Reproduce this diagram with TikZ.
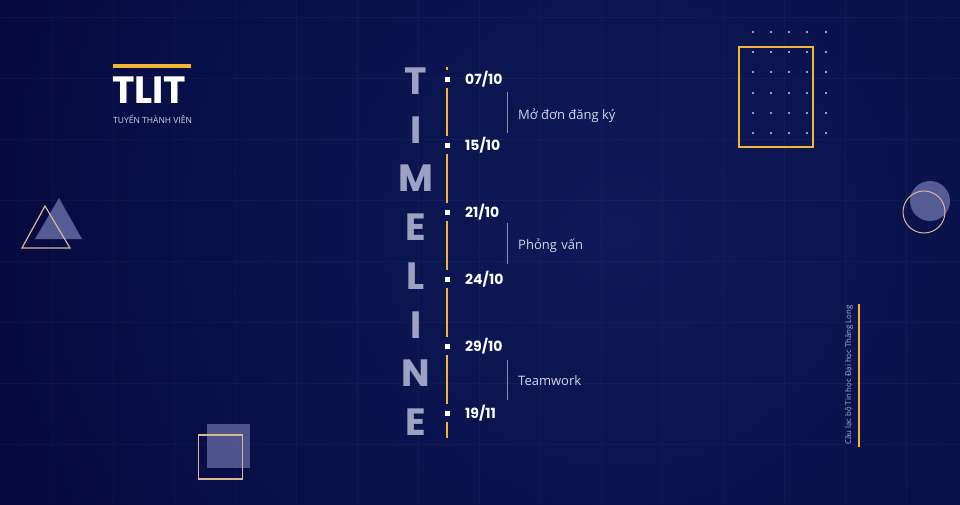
\documentclass[tikz,border=0pt]{standalone}
\usepackage{fontspec}
\setmainfont{Open Sans}
\newfontfamily\popfont{Poppins}
\usetikzlibrary{positioning}

\definecolor{bgdark}{HTML}{030337}
\definecolor{bglight}{HTML}{0E1B58}
\definecolor{tlyellow}{HTML}{F2B53A}
\definecolor{lettergray}{HTML}{9EA2C2}
\definecolor{lavender}{HTML}{565B95}
\definecolor{shapeline}{HTML}{D8B791}
\definecolor{labeltext}{HTML}{D3D6EA}
\definecolor{spangray}{HTML}{8A8FAE}
\definecolor{clubgray}{HTML}{ADB1D2}
\definecolor{dotcolor}{HTML}{C4CBF0}

\begin{document}
\begin{tikzpicture}[
    x=1pt, y=-1pt,
    letter/.style={
        font=\popfont\bfseries\fontsize{38}{38}\selectfont,
        text=lettergray, anchor=base, inner sep=0pt
    },
    date/.style={
        font=\popfont\bfseries\fontsize{14}{14}\selectfont,
        text=white, anchor=base west, inner sep=0pt
    },
    marker/.style={
        rectangle, fill=white,
        minimum size=5pt, inner sep=0pt
    },
    phase/.style={
        font=\fontsize{13}{13}\selectfont,
        text=labeltext, anchor=base west, inner sep=0pt
    },
    track/.style={tlyellow, line width=2.5pt, shorten <=6pt, shorten >=6pt},
    span/.style={spangray, line width=1pt},
    ghost/.style={fill=lavender},
    outline/.style={draw=shapeline, line width=1.2pt}
]

\useasboundingbox (0,0) rectangle (960,504);

% background
\fill[bgdark] (0,0) rectangle (960,504);
\begin{scope}
    \clip (0,0) rectangle (960,504);
    \shade[inner color=bglight, outer color=bgdark] (620,230) circle (880);
    \foreach \x in {52,113,...,906}
        \draw[white, opacity=0.03, line width=0.8pt] (\x,0) -- (\x,504);
    \foreach \y in {17,78,...,444}
        \draw[white, opacity=0.03, line width=0.8pt] (0,\y) -- (960,\y);
\end{scope}

% title
\fill[tlyellow] (113,64) rectangle (191,68);
\node (title) [font=\popfont\bfseries\fontsize{38}{38}\selectfont, text=white,
    anchor=base west, inner sep=0pt] at (112,103) {TLIT};
\node (subtitle) [font=\fontsize{8.5}{8.5}\selectfont, text=labeltext,
    anchor=base west, inner sep=0pt] at (113,123.5) {TUYỂN THÀNH VIÊN};

% TIMELINE
\node (t1) [letter] at (416,94.5)  {T};
\node (t2) [letter] at (416,143.2) {I};
\node (t3) [letter] at (416,191.9) {M};
\node (t4) [letter] at (416,240.5) {E};
\node (t5) [letter] at (416,289.3) {L};
\node (t6) [letter] at (416,338)   {I};
\node (t7) [letter] at (416,386.5) {N};
\node (t8) [letter] at (416,435.5) {E};

\node (d1) [marker] at (447,79)  {};
\node (d2) [marker] at (447,145) {};
\node (d3) [marker] at (447,212) {};
\node (d4) [marker] at (447,279) {};
\node (d5) [marker] at (447,346) {};
\node (d6) [marker] at (447,413) {};
\coordinate (trackTop) at (447,67);
\coordinate (trackEnd) at (447,438);

\draw[track, shorten <=0pt] (trackTop) -- (d1);
\draw[track] (d1) -- (d2);
\draw[track] (d2) -- (d3);
\draw[track] (d3) -- (d4);
\draw[track] (d4) -- (d5);
\draw[track] (d5) -- (d6);
\draw[track, shorten >=0pt] (d6) -- (trackEnd);

\node (l1) [date] at (465,84.5)  {07/10};
\node (l2) [date] at (465,150.5) {15/10};
\node (l3) [date] at (465,217.5) {21/10};
\node (l4) [date] at (465,284.5) {24/10};
\node (l5) [date] at (465,351.5) {29/10};
\node (l6) [date] at (465,418.5) {19/11};

\draw[span] (507,92) -- (507,133);
\draw[span] (507,223) -- (507,264);
\draw[span] (507,360) -- (507,400);
\node (p1) [phase] at (518,119)   {Mở đơn đăng ký};
\node (p2) [phase] at (518,249.5) {Phỏng\,\,vấn};
\node (p3) [phase] at (518,385.5) {Teamwork};

% dotted panel
\foreach \x in {753,771,789,807,826}
    \foreach \y in {32,52,72,93,113,133}
        \fill[dotcolor] (\x,\y) circle (1.1);
\draw[tlyellow, line width=2pt] (739,47) rectangle (813,147);

% side shapes
\fill[ghost] (930,201) circle (20);
\draw[outline, line width=1pt] (924,212) circle (21);

\fill[ghost] (59,198) -- (82,239) -- (35,239) -- cycle;
\draw[outline] (45,206) -- (70,248) -- (22,248) -- cycle;

\fill[ghost, opacity=0.9] (207,424) rectangle (250,468);
\draw[outline] (198.5,435) rectangle (242.5,479);

% club name
\node (club) [rotate=90, font=\fontsize{7.8}{7.8}\selectfont, text=clubgray,
    inner sep=0pt] at (849,375) {Câu lạc bộ Tin học Đại học Thăng Long};
\draw[tlyellow, line width=2pt] (859,304) -- (859,447);

\end{tikzpicture}
\end{document}
